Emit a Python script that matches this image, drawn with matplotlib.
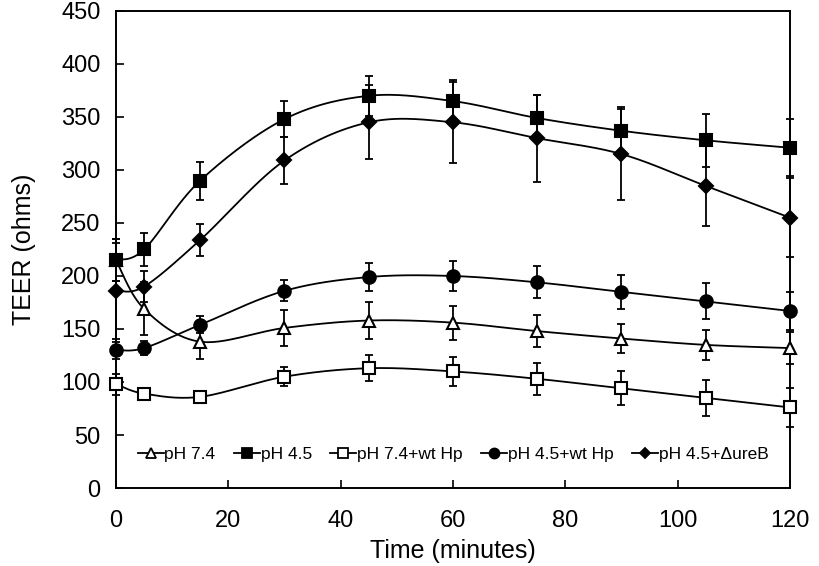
"""TEER over time for five conditions, smoothed lines with error bars."""

import matplotlib

matplotlib.use("Agg")

import numpy as np
import matplotlib.pyplot as plt

plt.rcParams["font.family"] = ["Liberation Sans", "DejaVu Sans"]

time_min = [0, 5, 15, 30, 45, 60, 75, 90, 105, 120]

labels = ["pH 7.4", "pH 4.5", "pH 7.4+wt Hp", "pH 4.5+wt Hp", "pH 4.5+\u0394ureB"]

ph74 = [215, 169, 138, 151, 158, 156, 148, 141, 135, 132]
ph74_err = [20, 25, 16, 17, 17, 16, 15, 14, 14, 15]

ph45 = [215, 225, 290, 348, 370, 365, 349, 337, 328, 321]
ph45_err = [20, 16, 18, 17, 19, 20, 22, 22, 25, 27]

ph74_hp = [98, 89, 86, 105, 113, 110, 103, 94, 85, 76]
ph74_hp_err = [10, 4, 4, 9, 12, 14, 15, 16, 17, 18]

ph45_hp = [130, 132, 154, 186, 199, 200, 194, 185, 176, 167]
ph45_hp_err = [8, 7, 8, 10, 13, 14, 15, 16, 17, 18]

ph45_ure = [186, 190, 234, 309, 345, 345, 330, 315, 285, 255]
ph45_ure_err = [45, 15, 15, 22, 35, 38, 41, 43, 38, 37]


def smooth(x, y, n=30):
    """Excel-style smoothed line: Catmull-Rom segments as cubic Beziers."""
    p = np.column_stack([x, y]).astype(float)
    ext = np.vstack([p[0], p, p[-1]])
    t = np.linspace(0, 1, n)[:, None]
    out = []
    for i in range(len(p) - 1):
        p0, p3 = ext[i + 1], ext[i + 2]
        c1 = p0 + (ext[i + 2] - ext[i]) / 6
        c2 = p3 - (ext[i + 3] - ext[i + 1]) / 6
        seg = ((1 - t) ** 3) * p0 + 3 * ((1 - t) ** 2) * t * c1 \
            + 3 * (1 - t) * t ** 2 * c2 + t ** 3 * p3
        out.append(seg if i == 0 else seg[1:])
    pts = np.vstack(out)
    return pts[:, 0], pts[:, 1]


series = [
    (ph74, ph74_err, "^", "white", 9),
    (ph45, ph45_err, "s", "black", 9),
    (ph74_hp, ph74_hp_err, "s", "white", 8.5),
    (ph45_hp, ph45_hp_err, "o", "black", 9),
    (ph45_ure, ph45_ure_err, "D", "black", 7),
]

fig = plt.figure(figsize=(8.19, 5.66), dpi=100)
ax = fig.add_axes([0.1416, 0.1378, 0.8230, 0.8428])

handles = []
for (vals, errs, marker, face, size), label in zip(series, labels):
    sx, sy = smooth(time_min, vals)
    ax.plot(sx, sy, color="black", lw=1.3, zorder=2, clip_on=False)
    ax.errorbar(time_min, vals, yerr=errs, fmt="none", ecolor="black",
                elinewidth=1.3, capsize=3, capthick=1.3, zorder=3,
                clip_on=False)
    ax.plot(time_min, vals, ls="none", marker=marker, ms=size,
            mfc=face, mec="black", mew=1.5, zorder=4, clip_on=False)
    h, = ax.plot([], [], color="black", lw=1.3, marker=marker,
                 ms=size * 0.8, mfc=face, mec="black", mew=1.3)
    handles.append(h)

ax.set_xlim(0, 120)
ax.set_ylim(0, 450)
ax.set_xticks(np.arange(0, 121, 20))
ax.set_yticks(np.arange(0, 451, 50))
ax.tick_params(direction="in", length=6, width=1.2, labelsize=17,
               top=False, right=False)
ax.tick_params(axis="x", pad=16)
ax.tick_params(axis="y", pad=11)
for s in ax.spines.values():
    s.set_linewidth(1.4)

ax.set_xlabel("Time (minutes)", fontsize=18, labelpad=5)
ax.set_ylabel("TEER (ohms)", fontsize=18, labelpad=18)

ax.legend(handles, labels, loc="center", bbox_to_anchor=(0.5, 0.071),
          ncol=5, frameon=False, fontsize=12.5, handlelength=1.5,
          handletextpad=0.05, columnspacing=1.05, numpoints=1)

fig.savefig("out.png", dpi=100)
plt.close(fig)
